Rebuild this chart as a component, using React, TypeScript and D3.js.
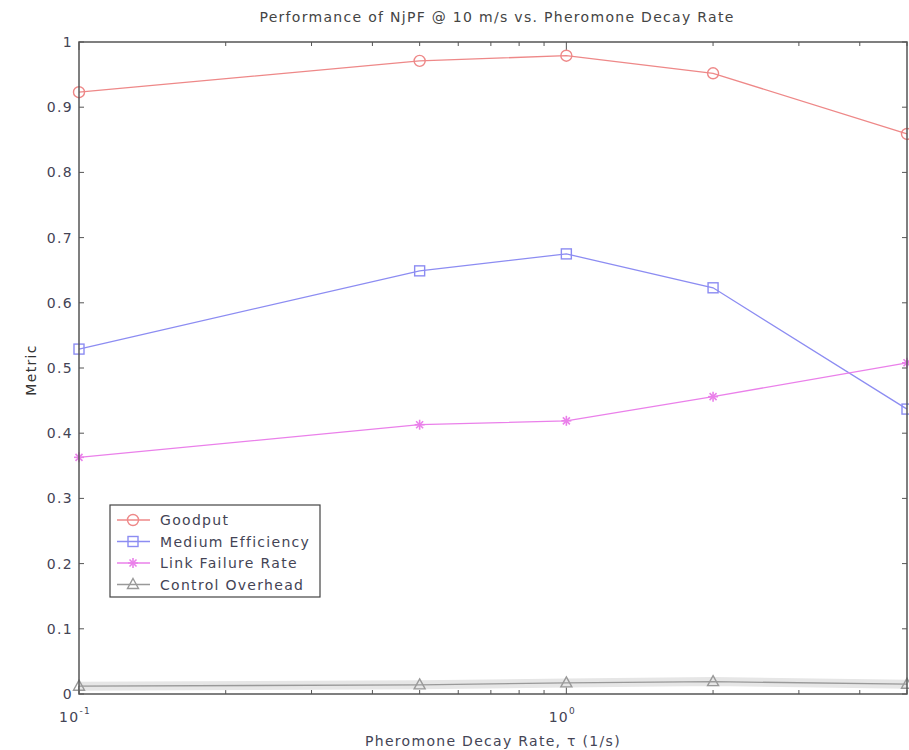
import React from "react";
import * as d3 from "d3";

const decayRates = [0.1, 0.5, 1, 2, 5];
const goodput = [0.923, 0.971, 0.979, 0.952, 0.859];
const mediumEfficiency = [0.529, 0.649, 0.675, 0.623, 0.437];
const linkFailureRate = [0.363, 0.413, 0.419, 0.456, 0.508];
const controlOverhead = [0.012, 0.014, 0.017, 0.019, 0.015];

const yTicks = [0, 0.1, 0.2, 0.3, 0.4, 0.5, 0.6, 0.7, 0.8, 0.9, 1];
const xMajor = [0.1, 1];
const xMinor = [0.2, 0.3, 0.4, 0.5, 0.6, 0.7, 0.8, 0.9, 2, 3, 4, 5];

const seriesList = [
  { name: "Goodput", values: goodput, color: "#ee8888", marker: "circle" },
  { name: "Medium Efficiency", values: mediumEfficiency, color: "#8c8cf2", marker: "square" },
  { name: "Link Failure Rate", values: linkFailureRate, color: "#ea80ea", marker: "star" },
  { name: "Control Overhead", values: controlOverhead, color: "#999999", marker: "triangle" },
];

const W = 909, H = 750;
const margin = { top: 42, right: 1, bottom: 56, left: 79 };

function Marker({ type, x, y, color }: { type: string; x: number; y: number; color: string }) {
  if (type === "circle") return <circle cx={x} cy={y} r={5.5} fill="none" stroke={color} strokeWidth={1.4} />;
  if (type === "square") return <rect x={x - 5} y={y - 5} width={10} height={10} fill="none" stroke={color} strokeWidth={1.4} />;
  if (type === "star")
    return (
      <g stroke={color} strokeWidth={1.6}>
        <line x1={x - 5} y1={y} x2={x + 5} y2={y} />
        <line x1={x} y1={y - 5} x2={x} y2={y + 5} />
        <line x1={x - 3.5} y1={y - 3.5} x2={x + 3.5} y2={y + 3.5} />
        <line x1={x - 3.5} y1={y + 3.5} x2={x + 3.5} y2={y - 3.5} />
      </g>
    );
  return (
    <path d={`M${x},${y - 6}L${x + 5.5},${y + 4}L${x - 5.5},${y + 4}Z`} fill="none" stroke={color} strokeWidth={1.4} />
  );
}

export default function App() {
  const x = d3.scaleLog().domain([0.1, 5]).range([margin.left, W - margin.right - 1]);
  const y = d3.scaleLinear().domain([0, 1]).range([H - margin.bottom, margin.top]);
  const line = d3.line<number>().x((_, i) => x(decayRates[i])).y((d) => y(d));
  const x0 = margin.left, x1 = W - margin.right - 1, y0 = H - margin.bottom, y1 = margin.top;
  const font = "'DejaVu Sans', Verdana, sans-serif";
  const ls = 1.3;

  return (
    <svg width={W} height={H} style={{ position: "absolute", left: 0, top: 0, background: "#fff" }} fontFamily={font} letterSpacing={ls}>
      <rect width={W} height={H} fill="#fff" />
      <text x={497} y={22} textAnchor="middle" fontSize={14} fill="#444">
        Performance of NjPF @ 10 m/s vs. Pheromone Decay Rate
      </text>

      {/* ticks */}
      <g stroke="#555" strokeWidth={1}>
        {yTicks.map((t) => (
          <g key={"y" + t}>
            <line x1={x0} x2={x0 + 5} y1={y(t)} y2={y(t)} />
            <line x1={x1} x2={x1 - 5} y1={y(t)} y2={y(t)} />
          </g>
        ))}
        {xMajor.map((t) => (
          <g key={"xm" + t}>
            <line x1={x(t)} x2={x(t)} y1={y0} y2={y0 - 8} />
            <line x1={x(t)} x2={x(t)} y1={y1} y2={y1 + 8} />
          </g>
        ))}
        {xMinor.map((t) => (
          <g key={"xn" + t}>
            <line x1={x(t)} x2={x(t)} y1={y0} y2={y0 - 4} />
            <line x1={x(t)} x2={x(t)} y1={y1} y2={y1 + 4} />
          </g>
        ))}
      </g>

      {/* y tick labels */}
      {yTicks.map((t) => (
        <text key={"yl" + t} x={x0 - 6} y={y(t) + 5} textAnchor="end" fontSize={14} fill="#445">
          {t === 0 || t === 1 ? String(t) : t.toFixed(1)}
        </text>
      ))}
      {/* x tick labels */}
      {xMajor.map((t) => (
        <text key={"xl" + t} x={x(t) - 4} y={y0 + 28} textAnchor="middle" fontSize={14} fill="#445">
          10
          <tspan dy={-8} fontSize={9}>{t === 0.1 ? "-1" : "0"}</tspan>
        </text>
      ))}

      <text x={493} y={746} textAnchor="middle" fontSize={14} fill="#445">
        Pheromone Decay Rate, τ (1/s)
      </text>
      <text transform={`translate(36,${370}) rotate(-90)`} textAnchor="middle" fontSize={14} fill="#333">
        Metric
      </text>

      {/* series */}
      <g>
        <path d={line(controlOverhead) || ""} fill="none" stroke="#e6e6e6" strokeWidth={9} />
        {seriesList.map((s) => (
          <g key={s.name}>
            <path d={line(s.values) || ""} fill="none" stroke={s.color} strokeWidth={1.3} />
            {s.values.map((v, i) => (
              <Marker key={i} type={s.marker} x={x(decayRates[i])} y={y(v)} color={s.color} />
            ))}
          </g>
        ))}
      </g>

      {/* frame */}
      <rect x={x0} y={y1} width={x1 - x0} height={y0 - y1} fill="none" stroke="#555" strokeWidth={1.5} />

      {/* legend */}
      <g>
        <rect x={110} y={505} width={210} height={92} fill="#fff" stroke="#444" strokeWidth={1.2} />
        {seriesList.map((s, i) => {
          const ly = 520 + i * 21.5;
          return (
            <g key={"lg" + s.name}>
              <line x1={117} x2={150} y1={ly} y2={ly} stroke={s.color} strokeWidth={1.3} />
              <Marker type={s.marker} x={133} y={ly} color={s.color} />
              <text x={160} y={ly + 5} fontSize={14} fill="#445">
                {s.name}
              </text>
            </g>
          );
        })}
      </g>
    </svg>
  );
}
